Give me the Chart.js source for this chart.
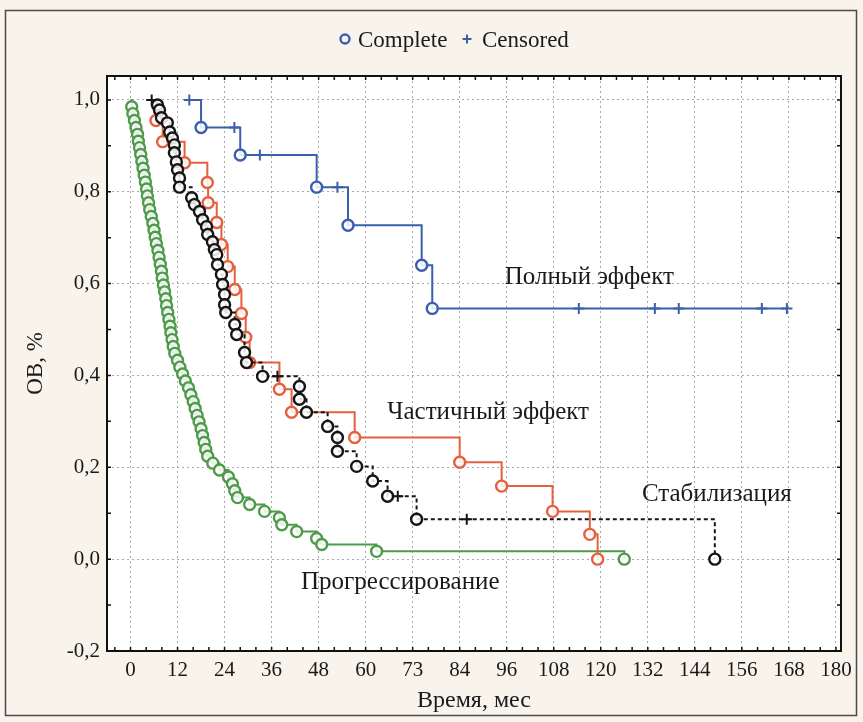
<!DOCTYPE html>
<html>
<head>
<meta charset="utf-8">
<script src="https://cdn.jsdelivr.net/npm/chart.js"></script>
<style>
  html, body { margin: 0; padding: 0; background: #f8f4ec; }
  #wrap { width: 863px; height: 722px; }
</style>
</head>
<body>
<div id="wrap"><canvas id="myChart"></canvas></div>
<script>
// axis ticks (the "73" is as printed in the original)
const xTicks = [0, 12, 24, 36, 48, 60, 72, 84, 96, 108, 120, 132, 144, 156, 168, 180];
const xTickLabels = ['0','12','24','36','48','60','73','84','96','108','120','132','144','156','168','180'];
const yTicks = [-0.2, 0, 0.2, 0.4, 0.6, 0.8, 1.0];

// Полный эффект
const fullStart = 14;
const fullEventT = [18, 28, 47.5, 55.5, 74.3, 77];
const fullEventS = [0.94, 0.88, 0.81, 0.727, 0.64, 0.546];
const fullCensT = [15, 26.5, 33, 52.8, 114.4, 133.8, 139.9, 161.1, 167.5];
const fullCensS = [1.0, 0.94, 0.88, 0.81, 0.546, 0.546, 0.546, 0.546, 0.546];

// Частичный эффект
const partStart = 6;
const partEventT = [6.5, 8.2, 13.8, 19.6, 19.8, 22, 23.2, 24.8, 26.6, 28.3, 29.4, 30.4, 38, 41.1, 57.2, 84, 94.7, 107.7, 117.2, 119.2];
const partEventS = [0.955, 0.909, 0.863, 0.82, 0.776, 0.733, 0.685, 0.637, 0.587, 0.535, 0.483, 0.428, 0.37, 0.32, 0.265, 0.211, 0.159, 0.104, 0.054, 0.0];
const partCensT = [];
const partCensS = [];

// Стабилизация
const stabStart = 5;
const stabEventT = [6.9, 7.4, 7.9, 9.4, 10, 10.7, 11.2, 11.2, 11.7, 12, 12.5, 12.5, 15.6, 16.3, 17.6, 18.4, 19.4, 19.7, 20.9, 21.4, 22, 22.2, 23.2, 23.5, 24, 24, 24.3, 26.6, 27.1, 29.1, 29.6, 33.7, 43.1, 43.1, 44.9, 50.3, 52.8, 52.8, 57.7, 61.8, 65.6, 73, 149.1];
const stabEventS = [0.989, 0.978, 0.961, 0.95, 0.93, 0.917, 0.902, 0.885, 0.865, 0.848, 0.83, 0.81, 0.787, 0.772, 0.757, 0.739, 0.724, 0.707, 0.691, 0.674, 0.663, 0.641, 0.62, 0.598, 0.576, 0.554, 0.537, 0.511, 0.489, 0.45, 0.428, 0.398, 0.376, 0.348, 0.32, 0.289, 0.265, 0.235, 0.202, 0.17, 0.137, 0.087, 0.0];
const stabCensT = [5.4, 37.5, 68.2, 85.8];
const stabCensS = [1.0, 0.398, 0.137, 0.087];

// Прогрессирование
const progStart = 0;
const progEventT = [0.3, 0.6, 1.0, 1.4, 1.8, 2.0, 2.3, 2.6, 2.9, 3.2, 3.5, 3.8, 4.1, 4.3, 4.6, 4.9, 5.3, 5.7, 6.0, 6.3, 6.6, 7.0, 7.3, 7.6, 7.9, 8.1, 8.4, 8.7, 9.0, 9.2, 9.5, 9.8, 10.1, 10.3, 10.6, 10.9, 11.3, 12.0, 12.6, 13.3, 14.0, 14.8, 15.4, 16.0, 16.5, 17.0, 17.5, 18.0, 18.4, 18.8, 19.2, 19.7, 21.0, 22.7, 25.0, 26.0, 26.6, 27.3, 30.4, 34.2, 38.0, 38.6, 42.4, 47.5, 48.8, 62.8, 126];
const progEventS = [0.985, 0.97, 0.955, 0.94, 0.925, 0.91, 0.896, 0.881, 0.866, 0.851, 0.836, 0.821, 0.806, 0.791, 0.776, 0.761, 0.746, 0.731, 0.716, 0.701, 0.687, 0.672, 0.657, 0.642, 0.627, 0.612, 0.597, 0.582, 0.567, 0.552, 0.537, 0.522, 0.507, 0.493, 0.478, 0.463, 0.448, 0.433, 0.418, 0.403, 0.388, 0.373, 0.358, 0.343, 0.328, 0.313, 0.299, 0.284, 0.269, 0.254, 0.239, 0.224, 0.209, 0.194, 0.179, 0.164, 0.149, 0.134, 0.119, 0.104, 0.09, 0.075, 0.06, 0.045, 0.032, 0.017, 0.0];
const progCensT = [];
const progCensS = [];

const BLUE = '#3a5fae', RED = '#e4603f', BLACK = '#151515', GREEN = '#4f9a4b';

function pts(ts, ss) { return ts.map((t, i) => ({x: t, y: ss[i]})); }
function kmLine(start, evT, evS, cT, cS) {
  const p = [{x: start, y: 1.0}].concat(pts(evT, evS), pts(cT, cS));
  return p.sort((a, b) => a.x - b.x);
}
function lineSet(data, color, dash) {
  return { data: data, showLine: true, stepped: true, borderColor: color, borderWidth: 2,
           borderDash: dash || [], pointRadius: 0, pointHoverRadius: 0, fill: false };
}
function circleSet(data, color) {
  return { data: data, showLine: false, pointStyle: 'circle', pointRadius: 5.5, pointBorderWidth: 2.4,
           pointBorderColor: color, pointBackgroundColor: 'rgba(255,255,255,0.85)' };
}
function crossSet(data, color) {
  return { data: data, showLine: false, pointStyle: 'cross', pointRadius: 5.5, pointBorderWidth: 2,
           pointBorderColor: color, pointBackgroundColor: color };
}

const notes = [
  {text: 'Полный эффект', t: 95.5, s: 0.613},
  {text: 'Частичный эффект', t: 65.5, s: 0.32},
  {text: 'Стабилизация', t: 130.5, s: 0.141},
  {text: 'Прогрессирование', t: 43.5, s: -0.05}
];

const serif = '"Liberation Serif", "Times New Roman", serif';

const deco = {
  id: 'deco',
  beforeDraw(chart) {
    const {ctx, chartArea: a} = chart;
    ctx.save();
    ctx.fillStyle = '#f8f4ec';
    ctx.fillRect(0, 0, chart.width, chart.height);
    ctx.strokeStyle = '#4a4a4a';
    ctx.lineWidth = 1.5;
    ctx.strokeRect(5.5, 10.5, 851, 705);
    ctx.fillStyle = '#ffffff';
    ctx.fillRect(a.left, a.top, a.right - a.left, a.bottom - a.top);
    ctx.restore();
  },
  afterDatasetsDraw(chart) {
    const {ctx, chartArea: a, scales: {x, y}} = chart;
    ctx.save();
    // frame
    ctx.strokeStyle = '#111';
    ctx.lineWidth = 2;
    ctx.strokeRect(a.left, a.top, a.right - a.left, a.bottom - a.top);
    // minor ticks pointing inward
    ctx.lineWidth = 1.5;
    ctx.beginPath();
    for (let v = -4; v <= 180; v += 4) {
      const px = x.getPixelForValue(v);
      ctx.moveTo(px, a.bottom); ctx.lineTo(px, a.bottom - 4);
      ctx.moveTo(px, a.top); ctx.lineTo(px, a.top + 4);
    }
    for (let k = -2; k <= 10; k++) {
      const py = y.getPixelForValue(k / 10);
      ctx.moveTo(a.left, py); ctx.lineTo(a.left + 4, py);
      ctx.moveTo(a.right, py); ctx.lineTo(a.right - 4, py);
    }
    ctx.stroke();
    // curve names
    ctx.fillStyle = '#1a1a1a';
    ctx.font = '25px ' + serif;
    ctx.textBaseline = 'middle';
    ctx.textAlign = 'left';
    notes.forEach(n => ctx.fillText(n.text, x.getPixelForValue(n.t), y.getPixelForValue(n.s)));
    // legend
    const ly = 40;
    ctx.font = '23px ' + serif;
    ctx.lineWidth = 2.4;
    ctx.strokeStyle = BLUE;
    ctx.beginPath(); ctx.arc(345, ly - 1, 4.5, 0, Math.PI * 2); ctx.stroke();
    ctx.fillStyle = '#1a1a1a';
    ctx.fillText('Complete', 358, ly + 1);
    ctx.lineWidth = 2;
    ctx.beginPath();
    ctx.moveTo(467, ly - 5.5); ctx.lineTo(467, ly + 3.5);
    ctx.moveTo(462.5, ly - 1); ctx.lineTo(471.5, ly - 1);
    ctx.stroke();
    ctx.fillText('Censored', 482, ly + 1);
    ctx.restore();
  }
};

new Chart('myChart', {
  type: 'scatter',
  data: {
    datasets: [
      circleSet(pts(stabEventT, stabEventS), BLACK),
      crossSet(pts(stabCensT, stabCensS), BLACK),
      lineSet(kmLine(stabStart, stabEventT, stabEventS, stabCensT, stabCensS), BLACK, [4, 3]),
      circleSet(pts(partEventT, partEventS), RED),
      lineSet(kmLine(partStart, partEventT, partEventS, partCensT, partCensS), RED),
      circleSet(pts(progEventT, progEventS), GREEN),
      lineSet(kmLine(progStart, progEventT, progEventS, progCensT, progCensS), GREEN),
      circleSet(pts(fullEventT, fullEventS), BLUE),
      crossSet(pts(fullCensT, fullCensS), BLUE),
      lineSet(kmLine(fullStart, fullEventT, fullEventS, fullCensT, fullCensS), BLUE)
    ]
  },
  options: {
    responsive: true,
    maintainAspectRatio: false,
    animation: false,
    layout: { padding: { top: 76, right: 22, left: 0, bottom: 0 } },
    plugins: { legend: { display: false }, tooltip: { enabled: false } },
    scales: {
      x: {
        type: 'linear', min: -6, max: 181.3,
        afterFit: s => { s.height = 71; },
        afterBuildTicks: s => { s.ticks = xTicks.map(v => ({value: v})); },
        ticks: { autoSkip: false, maxRotation: 0, padding: 7, color: '#1a1a1a',
                 font: { family: serif, size: 21 },
                 callback: (v, i) => xTickLabels[i] },
        grid: { color: '#a9a9a9', lineWidth: 1, drawTicks: false },
        border: { display: false, dash: [2, 3] },
        title: { display: true, text: 'Время, мес', color: '#1a1a1a',
                 font: { family: serif, size: 24 }, padding: { top: 0, bottom: 7 } }
      },
      y: {
        type: 'linear', min: -0.2, max: 1.052,
        afterFit: s => { s.width = 107; },
        afterBuildTicks: s => { s.ticks = yTicks.map(v => ({value: v})); },
        ticks: { padding: 7, color: '#1a1a1a', font: { family: serif, size: 21 },
                 callback: v => v.toFixed(1).replace('.', ',') },
        grid: { color: '#a9a9a9', lineWidth: 1, drawTicks: false },
        border: { display: false, dash: [2, 3] },
        title: { display: true, text: 'ОВ, %', color: '#1a1a1a',
                 font: { family: serif, size: 23 }, padding: { top: 22, bottom: 0 } }
      }
    }
  },
  plugins: [deco]
});
</script>
</body>
</html>
